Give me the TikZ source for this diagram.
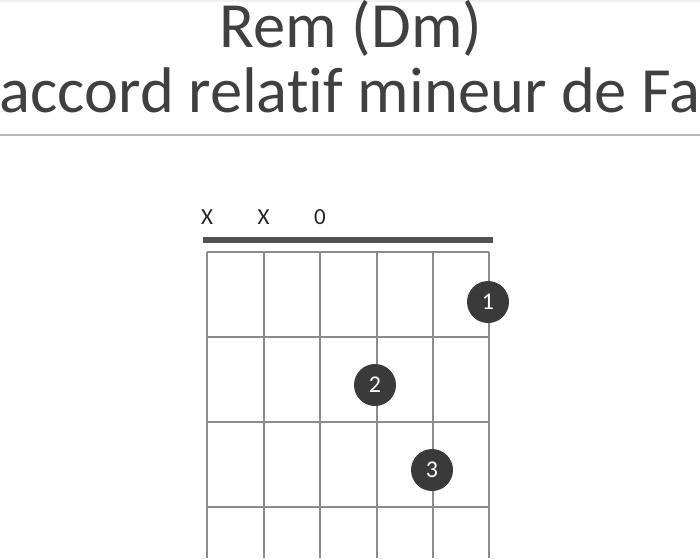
\documentclass[tikz,border=0pt]{standalone}
\usepackage{fontspec}
\setmainfont[Ligatures=NoCommon]{Carlito}
\usetikzlibrary{positioning}
\definecolor{inkgray}{HTML}{404040}
\definecolor{dotgray}{HTML}{3A3A3A}
\definecolor{linegray}{HTML}{8C8C8C}
\begin{document}
\begin{tikzpicture}[x=1pt, y=-1pt,
    title/.style={text=inkgray, font=\fontsize{64.5}{64.5}\selectfont, anchor=base},
    gridline/.style={draw=linegray, line width=2pt},
    finger/.style={circle, fill=dotgray, minimum size=42pt, inner sep=0pt, text=white, font=\fontsize{24}{24}\selectfont},
    mute/.style={text=black!85, font=\fontsize{23}{23}\selectfont}]
    \useasboundingbox (0,0) rectangle (700,558);
    % Header
    \fill[black!6] (0,0) rectangle (700,2);
    \node[title] (t1) at (351,47) {Rem (Dm)};
    \node[title] (t2) at (350,112) {accord relatif mineur de Fa};
    \draw[black!28, line width=1.5pt] (0,135) -- (700,135);

    % Strings
    \foreach \s/\x in {1/207, 2/263.5, 3/320, 4/376.5, 5/433, 6/489} {
        \coordinate (s\s) at (\x,252);
        \draw[gridline] (s\s) -- (\x,558);
    }
    % Frets
    \foreach \y in {252, 337, 422, 507}
        \draw[gridline] (207,\y) -- (489,\y);
    % Nut
    \draw[black!68, line width=6pt] (203,239.5) -- (493,239.5);

    % Open / muted strings
    \node[mute] (m1) at (207,217) {X};
    \node[mute] (m2) at (263.5,217) {X};
    \node[mute] (m3) at (320,217) {0};

    % Fingers
    \node[finger] (f1) at (488,302) {1};
    \node[finger] (f2) at (375,385) {2};
    \node[finger] (f3) at (432,470) {3};
\end{tikzpicture}
\end{document}
